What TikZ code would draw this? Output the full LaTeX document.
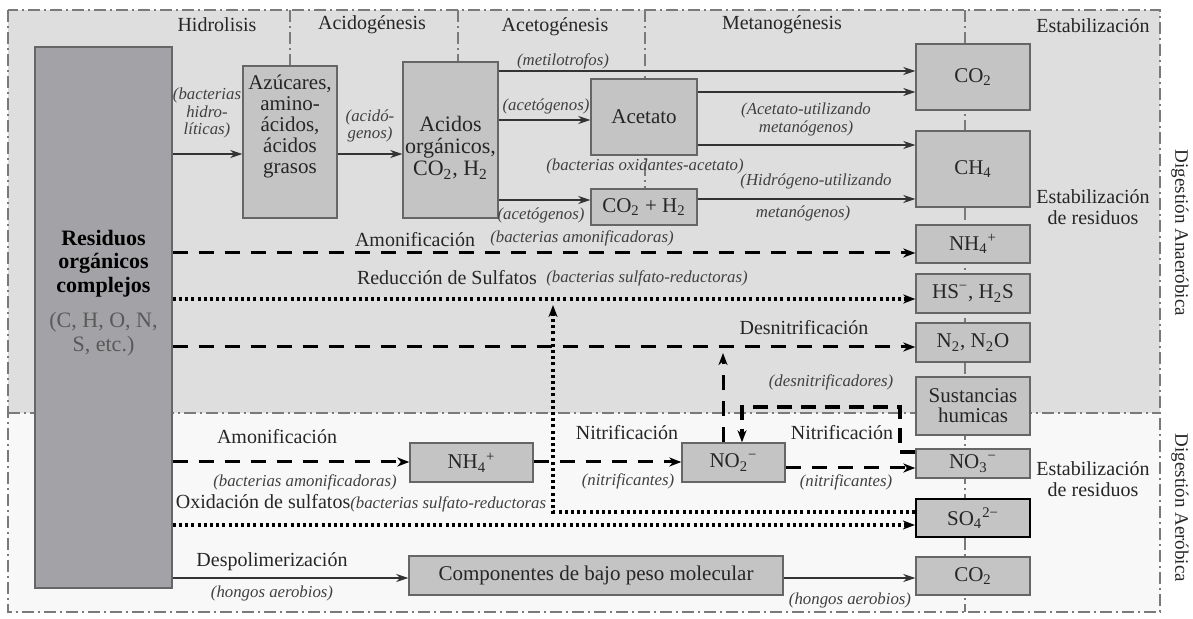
\documentclass[tikz,border=0pt]{standalone}
\usepackage{fontspec}
\setmainfont{Liberation Serif}
\usetikzlibrary{positioning, arrows.meta, calc}

\definecolor{anaerobg}{HTML}{DEDEDE}
\definecolor{aerobg}{HTML}{F8F8F8}
\definecolor{boxgray}{HTML}{C4C4C4}
\definecolor{resgray}{HTML}{A3A3A7}
\definecolor{framegray}{HTML}{7A7A7A}

\tikzset{
	box/.style={draw=black!60, fill=boxgray, line width=0.7pt, inner sep=0pt, align=center, text=black!85, font=\fontsize{10.5}{12}\selectfont},
	boxtext/.style={align=center, inner sep=0pt, text=black!85, font=\fontsize{10.5}{10.4}\selectfont},
	phase/.style={inner sep=1pt, text=black!85, font=\fontsize{10}{10.5}\selectfont, align=center},
	bact/.style={inner sep=1pt, text=black!75, align=center, font=\fontsize{8.4}{8.8}\selectfont\itshape},
	divline/.style={draw=framegray, line width=0.6pt, dash pattern=on 6pt off 2pt on 1pt off 2pt},
	flow/.style={draw=black!80, line width=0.6pt, -{Stealth[length=6pt,width=4pt,inset=1.8pt]}},
	dashflow/.style={draw=black, line width=1.5pt, dash pattern=on 7.5pt off 5.5pt, -{Stealth[length=6pt,width=4.5pt,inset=1.8pt]}},
	loopflow/.style={draw=black, line width=1.9pt, dash pattern=on 7.5pt off 4.5pt, -{Stealth[length=6pt,width=4.5pt,inset=1.8pt]}},
	dotflow/.style={draw=black, line width=1.6pt, dash pattern=on 1.5pt off 1.6pt, -{Stealth[length=6pt,width=4.5pt,inset=1.8pt]}}
}

\begin{document}
\begin{tikzpicture}[x=0.5pt, y=-0.5pt]
	\useasboundingbox (0,0) rectangle (1193,619);
	
	\fill[anaerobg] (8,10) rectangle (1160,413);
	\fill[aerobg] (8,413) rectangle (1160,612);
	\draw[divline] (8,10) rectangle (1160,612);
	\draw[divline] (8,413) -- (1160,413);
	\draw[divline] (290,10) -- (290,66);
	\draw[divline] (458,10) -- (458,62);
	\draw[divline] (645,10) -- (645,189);
	\draw[divline] (965,10) -- (965,612);
	
	\node (hidro) at (217,25) [phase]{Hidrolisis};
	\node (acido) at (372,25) [phase]{Acidogénesis};
	\node (aceto) at (555,27) [phase]{Acetogénesis};
	\node (metano) at (782,25) [phase]{Metanogénesis};
	\node (estab) at (1093,26) [phase]{Estabilización};
	
	\node (res) at (103.5,317.5) [box, fill=resgray, minimum width=68.5pt, minimum height=270.5pt]{};
	\node (restxt) at (103.5,293) [align=center, inner sep=0pt, font=\fontsize{11}{11.75}\selectfont]{\textbf{Residuos}\\\textbf{orgánicos}\\\textbf{complejos}\\[6pt]\color{black!65}(C, H, O, N,\\\color{black!65}S, etc.)};
	
	\node (azu) at (290,142) [box, minimum width=47pt, minimum height=76pt]{};
	\node (azutxt) at (290,126.5) [boxtext]{Azúcares,\\amino-\\ácidos,\\ácidos\\grasos};
	\node (aci) at (450.5,140) [box, minimum width=47.5pt, minimum height=78pt]{};
	\node (acitxt) at (450.5,148) [boxtext, font=\fontsize{11}{11}\selectfont]{Acidos\\orgánicos,\\CO\textsubscript{2}, H\textsubscript{2}};
	\node (ace) at (644,117) [box, minimum width=53pt, minimum height=38pt]{Acetato};
	\node (coh) at (644,207) [box, minimum width=53pt, minimum height=18pt]{CO\textsubscript{2} + H\textsubscript{2}};
	
	\node (co2a) at (973,77) [box, minimum width=57pt, minimum height=33pt]{CO\textsubscript{2}};
	\node (ch4) at (973,169) [box, minimum width=57pt, minimum height=38pt]{CH\textsubscript{4}};
	\node (nh4a) at (973,244) [box, minimum width=57pt, minimum height=19pt]{NH\textsubscript{4}\textsuperscript{+}};
	\node (hs) at (973,293.5) [box, minimum width=57pt, minimum height=19.5pt]{HS\textsuperscript{−}, H\textsubscript{2}S};
	\node (n2) at (973,342.5) [box, minimum width=57pt, minimum height=19.5pt]{N\textsubscript{2}, N\textsubscript{2}O};
	\node (hum) at (973,406) [box, minimum width=57pt, minimum height=29pt, font=\fontsize{10.5}{10}\selectfont]{Sustancias\\humicas};
	\node (no3) at (973,463.5) [box, minimum width=57pt, minimum height=14.5pt]{NO\textsubscript{3}\textsuperscript{−}};
	\node (so4) at (973,518) [box, draw=black, line width=1.1pt, minimum width=57pt, minimum height=19pt]{SO\textsubscript{4}\textsuperscript{2−}};
	\node (co2b) at (973,576) [box, minimum width=57pt, minimum height=19pt]{CO\textsubscript{2}};
	
	\node (nh4b) at (471.5,462.5) [box, minimum width=61.5pt, minimum height=19.5pt]{NH\textsubscript{4}\textsuperscript{+}};
	\node (no2) at (733.5,462.5) [box, minimum width=51.5pt, minimum height=19.5pt]{NO\textsubscript{2}\textsuperscript{−}};
	\node (comp) at (596,575.5) [box, minimum width=187pt, minimum height=19.5pt]{Componentes de bajo peso molecular};
	
	\draw[flow] (res.east |- 0,154) -- (azu.west |- 0,154);
	\draw[flow] (azu.east |- 0,154) -- (aci.west |- 0,154);
	\draw[flow] (aci.east |- 0,71) -- (co2a.west |- 0,71);
	\draw[flow] (aci.east |- 0,120) -- (ace.west |- 0,120);
	\draw[flow] (aci.east |- 0,200) -- (coh.west |- 0,200);
	\draw[flow] (ace.east |- 0,92) -- (co2a.west |- 0,92);
	\draw[flow] (ace.east |- 0,145) -- (ch4.west |- 0,145);
	\draw[flow] (coh.east |- 0,199) -- (ch4.west |- 0,199);
	
	\draw[dashflow] (res.east |- 0,253) -- (nh4a.west |- 0,253);
	\draw[dotflow] (res.east |- 0,299) -- (hs.west |- 0,299);
	\draw[dashflow] (res.east |- 0,347) -- (n2.west |- 0,347);
	
	\draw[dashflow] (res.east |- 0,462) -- (nh4b.west |- 0,462);
	\draw[dashflow] (nh4b.east |- 0,462) -- (no2.west |- 0,462);
	\draw[dashflow] (no2.east |- 0,468) -- (no3.west |- 0,468);
	\draw[dashflow] (no2.north -| 723,0) -- (723,353);
	\draw[loopflow] (no3.west |- 0,452) -- (900,452) -- (900,407) -- (742,407) -- (no2.north -| 742,0);
	\draw[dotflow] (res.east |- 0,525) -- (so4.west |- 0,525);
	\draw[dotflow] (so4.west |- 0,512) -- (553,512) -- (553,305);
	
	\draw[flow] (res.east |- 0,578) -- (comp.west |- 0,578);
	\draw[flow] (comp.east |- 0,578) -- (co2b.west |- 0,578);
	
	\node (bhidro) at (207,113) [bact]{(bacterias\\hidro-\\líticas)};
	\node (bacido) at (370,126) [bact]{(acidó-\\genos)};
	\node (bmetil) at (563,61) [bact]{(metilotrofos)};
	\node (baceto1) at (546,106) [bact]{(acetógenos)};
	\node (baceto2) at (541,215) [bact]{(acetógenos)};
	\node (boxid) at (645,166) [bact]{(bacterias oxidantes-acetato)};
	\node (bacutil) at (806,119) [bact, font=\fontsize{8.4}{9}\selectfont\itshape]{(Acetato-utilizando\\metanógenos)};
	\node (bhidutil) at (816,181) [bact]{(Hidrógeno-utilizando};
	\node (bmetan) at (803,213) [bact]{metanógenos)};
	\node (estres1) at (1093,207.5) [phase, font=\fontsize{10}{10.5}\selectfont]{Estabilización\\de residuos};
	
	\node (amon1) at (415,240) [phase]{Amonificación};
	\node (bamon1) at (582,238) [bact]{(bacterias amonificadoras)};
	\node (redsulf) at (447,278) [phase]{Reducción de Sulfatos};
	\node (bsulf) at (647,278) [bact]{(bacterias sulfato-reductoras)};
	\node (desn) at (804,328) [phase]{Desnitrificación};
	\node (bdesn) at (831,382) [bact]{(desnitrificadores)};
	
	\node (amon2) at (277,437) [phase]{Amonificación};
	\node (bamon2) at (305,482) [bact]{(bacterias amonificadoras)};
	\node (nitr1) at (627,433) [phase]{Nitrificación};
	\node (bnitr1) at (628,481) [bact]{(nitrificantes)};
	\node (nitr2) at (842,433) [phase]{Nitrificación};
	\node (bnitr2) at (846,482) [bact]{(nitrificantes)};
	\node (oxsulf) at (361,503) [phase]{Oxidación de sulfatos{\fontsize{8.4}{8.8}\selectfont\itshape\color{black!75}(bacterias sulfato-reductoras}};
	\node (estres2) at (1093,479) [phase]{Estabilización\\de residuos};
	\node (despol) at (272,562) [phase]{Despolimerización};
	\node (bhong1) at (272,593) [bact]{(hongos aerobios)};
	\node (bhong2) at (850,600) [bact]{(hongos aerobios)};
	
	\node (dana) at (1180,233) [phase, rotate=-90, font=\fontsize{9.5}{10}\selectfont]{Digestión Anaeróbica};
	\node (daer) at (1180,508) [phase, rotate=-90, font=\fontsize{9.5}{10}\selectfont]{Digestión Aeróbica};
	
\end{tikzpicture}
\end{document}
